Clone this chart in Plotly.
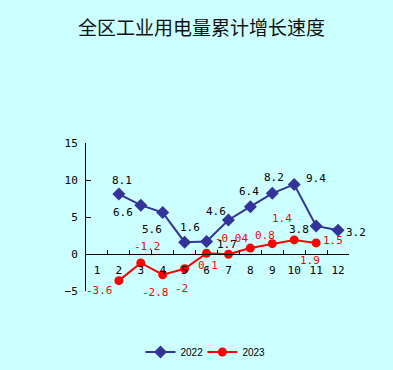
import plotly.graph_objects as go

months = ["1", "2", "3", "4", "5", "6", "7", "8", "9", "10", "11", "12"]
values_2022 = [None, 8.1, 6.6, 5.6, 1.6, 1.7, 4.6, 6.4, 8.2, 9.4, 3.8, 3.2]
values_2023 = [None, -3.6, -1.2, -2.8, -2, 0.1, -0.04, 0.8, 1.4, 1.9, 1.5, None]
labels_2022 = [None, "8.1", "6.6", "5.6", "1.6", "1.7", "4.6", "6.4", "8.2", "9.4", "3.8", "3.2"]
labels_2023 = [None, "-3.6", "-1.2", "-2.8", "-2", "0.1", "-0.04", "0.8", "1.4", "1.9", "1.5", None]
title_text = "全区工业用电量累计增长速度"

# label offsets in pixels (dx, dy up)
offs_2022 = [None, (3, 14), (-18, -7), (-11, -17), (5, 15), (20, -3), (-12, 8),
             (-1, 15), (2, 16), (22, 6), (-17, -4), (18, -2)]
offs_2023 = [None, (-19, -10), (7, 16), (-7, -18), (-3, -20), (1, -12), (3, 16),
             (15, 13), (10, 25), (16, -21), (17, 2), None]

BG = "#CCFFFF"
C22 = "#333399"
C23 = "#FF0000"
LFONT = "DejaVu Sans Mono, monospace"

fig = go.Figure()
fig.add_trace(go.Scatter(x=months, y=values_2022, name="2022", mode="lines+markers",
                         line=dict(color=C22, width=2),
                         marker=dict(symbol="diamond", size=10, color=C22),
                         connectgaps=False, cliponaxis=False, legend="legend"))
fig.add_trace(go.Scatter(x=months, y=values_2023, name="2023", mode="lines+markers",
                         line=dict(color=C23, width=2),
                         marker=dict(symbol="circle", size=9, color=C23),
                         connectgaps=False, cliponaxis=False, legend="legend2"))

annotations = []
for i, (v, t, o) in enumerate(zip(values_2022, labels_2022, offs_2022)):
    if v is None:
        continue
    annotations.append(dict(x=i, y=v, xref="x", yref="y", text=t, showarrow=False,
                            xshift=o[0], yshift=o[1],
                            font=dict(family=LFONT, size=11, color="black")))
for i, (v, t, o) in enumerate(zip(values_2023, labels_2023, offs_2023)):
    if v is None:
        continue
    annotations.append(dict(x=i, y=v, xref="x", yref="y", text=t, showarrow=False,
                            xshift=o[0], yshift=o[1],
                            font=dict(family=LFONT, size=11, color=C23)))

legend_common = dict(orientation="h", xref="container", xanchor="left",
                     y=18 / 370, yref="container", yanchor="middle",
                     font=dict(family="Liberation Sans, Arial", size=10, color="black"),
                     bgcolor="rgba(0,0,0,0)")

fig.update_layout(
    width=393, height=370,
    paper_bgcolor=BG, plot_bgcolor=BG,
    margin=dict(l=86, r=44, t=143, b=79, pad=0, autoexpand=False),
    title=dict(text=title_text, x=0.513, xref="container", y=1 - 28 / 370,
               yref="container", xanchor="center", yanchor="middle",
               font=dict(family="Noto Sans CJK SC", size=19, color="#111111")),
    showlegend=True,
    legend=dict(x=0.3575, **legend_common),
    legend2=dict(x=0.515, **legend_common),
    xaxis=dict(type="category", anchor="free", position=0.25,
               showline=True, linecolor="black", linewidth=1,
               ticks="inside", ticklen=4, tickcolor="black", tickson="boundaries",
               showgrid=False, zeroline=False, tickangle=0, automargin=False,
               tickfont=dict(family=LFONT, size=11, color="black"),
               ticklabelstandoff=6, range=[-0.5, 11.5]),
    yaxis=dict(range=[-5, 15], dtick=5, tick0=0,
               showline=True, linecolor="black", linewidth=1,
               ticks="inside", ticklen=5, tickcolor="black",
               showgrid=False, zeroline=False, automargin=False,
               tickfont=dict(family=LFONT, size=11, color="black"),
               ticklabelstandoff=5),
    annotations=annotations,
)

fig.write_html("out.html", config={"displayModeBar": False},
               post_script="document.body.style.margin='0';document.body.style.background='%s';" % BG)
